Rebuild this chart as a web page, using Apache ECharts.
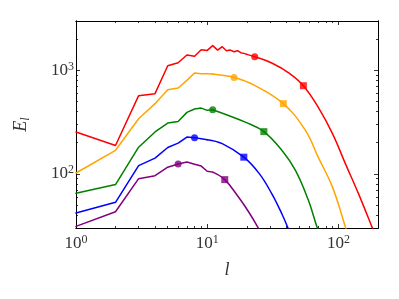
<!DOCTYPE html>
<html><head><meta charset="utf-8">
<script src="https://cdn.jsdelivr.net/npm/echarts@6.0.0/dist/echarts.min.js"></script>
<style>html,body{margin:0;padding:0;background:#fff}#c{width:399px;height:299px}</style>
</head><body><div id="c"></div>
<script>
// ---- data ----
const redL = [1,2,3,4,5,6,7,8,9,10,11,12,13,14,15,16,17,18,19,20,23,31,42,54,70,90,113,142,180,195];
const redE = [254,188,570,596,1110,1186,1410,1370,1580,1560,1734,1571,1694,1550,1571,1514,1550,1482,1460,1428,1356,1178,942,711,441,245,125,64.4,30.6,23.5];
const orangeL = [1,2,3,4,5,6,7,8,9,10,11,13,16,23,38,56,70,90,113,120];
const orangeE = [102,169,341,477,651,675,800,942,929,929,921,896,855,716,477,263,145,74.5,30.6,24];
const greenL = [1,2,3,4,5,6,7,8,9,10,11,14.5,19.5,27,37,47,59,69,74];
const greenE = [64.9,78.8,181,254,310,321,393,423,432,411,417,367,316,256,169,108,55.5,30,24];
const blueL = [1,2,3,4,5,6,7,8,9,10,13,19,25,31,37,41,44];
const blueE = [41.8,53.1,120,142,180,198,227,224,219,214,196,145,100,64.4,41.2,30.5,24];
const purpleL = [1,2,3,4,5,6,7,8,9,10,11,13.6,17.3,20.7,24.7,27];
const purpleE = [31.1,43.1,89.9,96.1,116,124.4,130,124,119,106,104,88,59.7,42.8,29.5,24];

// markers: [circle l, circle E, square l, square E]
const redMarks = [23,1356,54,711];
const orangeMarks = [16,855,38,477];
const greenMarks = [11,417,27,256];
const blueMarks = [8,224,19,145];
const purpleMarks = [6,124.4,13.6,88];

// l from which each curve is a smooth decay
const smoothFrom = {red:20, orange:11, green:11, blue:10, purple:11};

const xMajor = [1,10,100];
const xMinor = [2,3,4,5,6,7,8,9,20,30,40,50,60,70,80,90];
const yMajor = [100,1000];
const yMinor = [40,50,60,70,80,90,200,300,400,500,600,700,800,900,2000];

// ---- chart ----
const SERIF = "'Liberation Serif','DejaVu Serif',serif";
const TXT = '#333';
const rich = {
  b:{fontSize:17,fontFamily:SERIF,color:TXT,lineHeight:20},
  s:{fontSize:12,fontFamily:SERIF,color:TXT,verticalAlign:'top',lineHeight:12}
};
const fmt = v => '{b|10}{s|' + Math.round(Math.log10(v)) + '}';

function axis(dir, pos, ticks, len, labels) {
  const a = {
    type:'log', logBase:10, position:pos,
    min: dir==='x'?1:30, max: dir==='x'?200:3000,
    axisLine:{show:true,onZero:false,lineStyle:{color:'#000',width:1}},
    axisTick:{show:true,inside:true,length:len,customValues:ticks,lineStyle:{color:'#000',width:0.8}},
    axisLabel:{show:!!labels},
    splitLine:{show:false}, minorTick:{show:false}, minorSplitLine:{show:false}
  };
  if (labels) {
    a.axisLabel = {show:true, customValues:labels, formatter:fmt, rich:rich, margin: dir==='x'?6:2};
  }
  return a;
}
const zip = (L,E) => L.map((l,i)=>[l,E[i]]);

const xAxes = [axis('x','bottom',xMajor,4,xMajor), axis('x','bottom',xMinor,2,null),
               axis('x','top',xMajor,4,null), axis('x','top',xMinor,2,null)];
xAxes[0].name = 'l';
xAxes[0].nameLocation = 'middle';
xAxes[0].nameGap = 33;
xAxes[0].nameTextStyle = {fontFamily:SERIF,fontStyle:'italic',fontSize:18,color:TXT};
const yAxes = [axis('y','left',yMajor,4,yMajor), axis('y','left',yMinor,2,null),
               axis('y','right',yMajor,4,null), axis('y','right',yMinor,2,null)];
yAxes[0].name = '{e|E}{l|l}';
yAxes[0].nameLocation = 'middle';
yAxes[0].nameGap = 44;
yAxes[0].nameRotate = 90;
yAxes[0].nameTextStyle = {rich:{
  e:{fontFamily:SERIF,fontStyle:'italic',fontSize:18,color:TXT,lineHeight:22},
  l:{fontFamily:SERIF,fontStyle:'italic',fontSize:12,color:TXT,verticalAlign:'bottom',lineHeight:14}
}};

const curves = [
  ['red','#ff0000',redL,redE,redMarks],
  ['orange','#ffa500',orangeL,orangeE,orangeMarks],
  ['green','#008000',greenL,greenE,greenMarks],
  ['blue','#0000ff',blueL,blueE,blueMarks],
  ['purple','#800080',purpleL,purpleE,purpleMarks]
];
const series = [];
curves.forEach(([k,c,L,E,M])=>{
  const pts = zip(L,E);
  const s = smoothFrom[k];
  const head = pts.filter(p=>p[0]<=s);
  const tail = pts.filter(p=>p[0]>=s);
  series.push({type:'line',data:head,symbol:'none',clip:true,silent:true,
    lineStyle:{color:c,width:1.5,cap:'round',join:'round'},itemStyle:{color:c}});
  series.push({type:'line',data:tail,symbol:'none',clip:true,silent:true,smooth:0.4,
    lineStyle:{color:c,width:1.5,cap:'round',join:'round'},itemStyle:{color:c}});
  series.push({type:'scatter',data:[[M[0],M[1]]],symbol:'circle',symbolSize:7,itemStyle:{color:c},silent:true});
  series.push({type:'scatter',data:[[M[2],M[3]]],symbol:'rect',symbolSize:7,itemStyle:{color:c},silent:true});
});

const chart = echarts.init(document.getElementById('c'),null,{renderer:'canvas'});
chart.setOption({
  animation:false,
  backgroundColor:'#fff',
  grid:{left:76,right:21,top:21,bottom:71,containLabel:false},
  xAxis:xAxes, yAxis:yAxes, series:series
});
</script></body></html>
